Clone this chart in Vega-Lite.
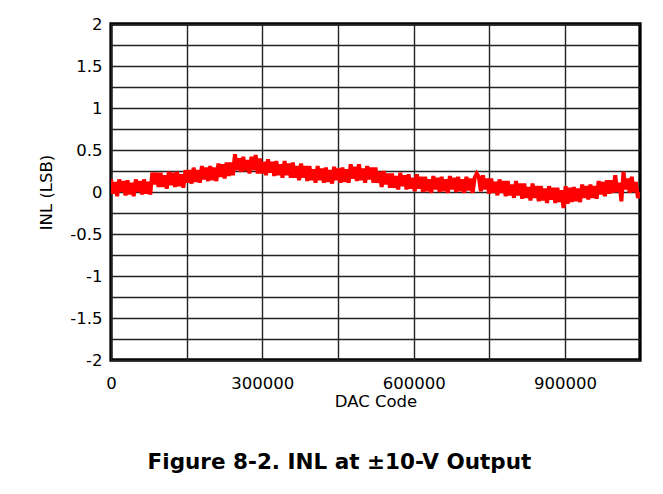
{
  "$schema": "https://vega.github.io/schema/vega-lite/v6.json",
  "width": 529,
  "height": 336,
  "autosize": {"type": "none"},
  "padding": {"left": 111, "top": 24, "right": 23, "bottom": 134},
  "background": "white",
  "title": {
    "text": "Figure 8-2. INL at ±10-V Output",
    "orient": "bottom",
    "frame": "bounds",
    "anchor": "middle",
    "font": "DejaVu Sans",
    "fontSize": 21.5,
    "fontWeight": "bold",
    "color": "#000",
    "offset": 42
  },
  "config": {
    "view": {"stroke": "#000", "strokeWidth": 3.3},
    "axis": {
      "labelFont": "DejaVu Sans",
      "titleFont": "DejaVu Sans",
      "labelFontSize": 16.5,
      "titleFontSize": 16.5,
      "titleFontWeight": "normal",
      "labelColor": "#000",
      "titleColor": "#000",
      "domain": false,
      "ticks": false,
      "tickSize": 0,
      "gridColor": "#222",
      "gridWidth": 1.4,
      "gridOpacity": 1
    }
  },
  "data": {
    "values": [
      {"code": 0, "inl": 0.15}, {"code": 4096, "inl": -0.02}, {"code": 8192, "inl": 0.12}, {"code": 12288, "inl": -0.05},
      {"code": 16384, "inl": 0.15}, {"code": 20480, "inl": 0.00}, {"code": 24576, "inl": 0.13}, {"code": 28672, "inl": -0.04},
      {"code": 32768, "inl": 0.14}, {"code": 36864, "inl": -0.03}, {"code": 40960, "inl": 0.11}, {"code": 45056, "inl": -0.05},
      {"code": 49152, "inl": 0.15}, {"code": 53248, "inl": 0.00}, {"code": 57344, "inl": 0.13}, {"code": 61440, "inl": -0.03},
      {"code": 65536, "inl": 0.15}, {"code": 69632, "inl": -0.02}, {"code": 73728, "inl": 0.12}, {"code": 77824, "inl": -0.03},
      {"code": 81920, "inl": 0.23}, {"code": 86016, "inl": 0.09}, {"code": 90112, "inl": 0.23}, {"code": 94208, "inl": 0.06},
      {"code": 98304, "inl": 0.23}, {"code": 102400, "inl": 0.06}, {"code": 106496, "inl": 0.20}, {"code": 110592, "inl": 0.04},
      {"code": 114688, "inl": 0.24}, {"code": 118784, "inl": 0.08}, {"code": 122880, "inl": 0.23}, {"code": 126976, "inl": 0.06},
      {"code": 131072, "inl": 0.24}, {"code": 135168, "inl": 0.07}, {"code": 139264, "inl": 0.21}, {"code": 143360, "inl": 0.05},
      {"code": 147456, "inl": 0.26}, {"code": 151552, "inl": 0.11}, {"code": 155648, "inl": 0.26}, {"code": 159744, "inl": 0.10},
      {"code": 163840, "inl": 0.29}, {"code": 167936, "inl": 0.12}, {"code": 172032, "inl": 0.26}, {"code": 176128, "inl": 0.11},
      {"code": 180224, "inl": 0.31}, {"code": 184320, "inl": 0.15}, {"code": 188416, "inl": 0.29}, {"code": 192512, "inl": 0.13},
      {"code": 196608, "inl": 0.31}, {"code": 200704, "inl": 0.14}, {"code": 204800, "inl": 0.29}, {"code": 208896, "inl": 0.13},
      {"code": 212992, "inl": 0.34}, {"code": 217088, "inl": 0.18}, {"code": 221184, "inl": 0.33}, {"code": 225280, "inl": 0.16},
      {"code": 229376, "inl": 0.35}, {"code": 233472, "inl": 0.19}, {"code": 237568, "inl": 0.35}, {"code": 241664, "inl": 0.20},
      {"code": 245760, "inl": 0.45}, {"code": 249856, "inl": 0.26}, {"code": 253952, "inl": 0.40}, {"code": 258048, "inl": 0.24},
      {"code": 262144, "inl": 0.42}, {"code": 266240, "inl": 0.25}, {"code": 270336, "inl": 0.38}, {"code": 274432, "inl": 0.22},
      {"code": 278528, "inl": 0.42}, {"code": 282624, "inl": 0.26}, {"code": 286720, "inl": 0.44}, {"code": 290816, "inl": 0.22},
      {"code": 294912, "inl": 0.40}, {"code": 299008, "inl": 0.22}, {"code": 303104, "inl": 0.36}, {"code": 307200, "inl": 0.20},
      {"code": 311296, "inl": 0.39}, {"code": 315392, "inl": 0.23}, {"code": 319488, "inl": 0.36}, {"code": 323584, "inl": 0.19},
      {"code": 327680, "inl": 0.37}, {"code": 331776, "inl": 0.20}, {"code": 335872, "inl": 0.33}, {"code": 339968, "inl": 0.17},
      {"code": 344064, "inl": 0.37}, {"code": 348160, "inl": 0.20}, {"code": 352256, "inl": 0.34}, {"code": 356352, "inl": 0.17},
      {"code": 360448, "inl": 0.35}, {"code": 364544, "inl": 0.17}, {"code": 368640, "inl": 0.31}, {"code": 372736, "inl": 0.14},
      {"code": 376832, "inl": 0.34}, {"code": 380928, "inl": 0.17}, {"code": 385024, "inl": 0.31}, {"code": 389120, "inl": 0.13},
      {"code": 393216, "inl": 0.31}, {"code": 397312, "inl": 0.14}, {"code": 401408, "inl": 0.27}, {"code": 405504, "inl": 0.11},
      {"code": 409600, "inl": 0.31}, {"code": 413696, "inl": 0.14}, {"code": 417792, "inl": 0.28}, {"code": 421888, "inl": 0.11},
      {"code": 425984, "inl": 0.29}, {"code": 430080, "inl": 0.12}, {"code": 434176, "inl": 0.26}, {"code": 438272, "inl": 0.10},
      {"code": 442368, "inl": 0.30}, {"code": 446464, "inl": 0.14}, {"code": 450560, "inl": 0.28}, {"code": 454656, "inl": 0.11},
      {"code": 458752, "inl": 0.29}, {"code": 462848, "inl": 0.12}, {"code": 466944, "inl": 0.27}, {"code": 471040, "inl": 0.11},
      {"code": 475136, "inl": 0.33}, {"code": 479232, "inl": 0.16}, {"code": 483328, "inl": 0.30}, {"code": 487424, "inl": 0.13},
      {"code": 491520, "inl": 0.33}, {"code": 495616, "inl": 0.14}, {"code": 499712, "inl": 0.28}, {"code": 503808, "inl": 0.11},
      {"code": 507904, "inl": 0.31}, {"code": 512000, "inl": 0.15}, {"code": 516096, "inl": 0.29}, {"code": 520192, "inl": 0.11},
      {"code": 524288, "inl": 0.29}, {"code": 528384, "inl": 0.11}, {"code": 532480, "inl": 0.24}, {"code": 536576, "inl": 0.06},
      {"code": 540672, "inl": 0.25}, {"code": 544768, "inl": 0.09}, {"code": 548864, "inl": 0.22}, {"code": 552960, "inl": 0.05},
      {"code": 557056, "inl": 0.22}, {"code": 561152, "inl": 0.05}, {"code": 565248, "inl": 0.19}, {"code": 569344, "inl": 0.03},
      {"code": 573440, "inl": 0.23}, {"code": 577536, "inl": 0.07}, {"code": 581632, "inl": 0.20}, {"code": 585728, "inl": 0.03},
      {"code": 589824, "inl": 0.21}, {"code": 593920, "inl": 0.04}, {"code": 598016, "inl": 0.17}, {"code": 602112, "inl": 0.01},
      {"code": 606208, "inl": 0.21}, {"code": 610304, "inl": 0.04}, {"code": 614400, "inl": 0.18}, {"code": 618496, "inl": 0.00},
      {"code": 622592, "inl": 0.18}, {"code": 626688, "inl": 0.01}, {"code": 630784, "inl": 0.15}, {"code": 634880, "inl": -0.01},
      {"code": 638976, "inl": 0.19}, {"code": 643072, "inl": 0.03}, {"code": 647168, "inl": 0.17}, {"code": 651264, "inl": 0.00},
      {"code": 655360, "inl": 0.18}, {"code": 659456, "inl": 0.01}, {"code": 663552, "inl": 0.15}, {"code": 667648, "inl": -0.01},
      {"code": 671744, "inl": 0.19}, {"code": 675840, "inl": 0.03}, {"code": 679936, "inl": 0.17}, {"code": 684032, "inl": 0.00},
      {"code": 688128, "inl": 0.18}, {"code": 692224, "inl": 0.01}, {"code": 696320, "inl": 0.15}, {"code": 700416, "inl": -0.01},
      {"code": 704512, "inl": 0.18}, {"code": 708608, "inl": 0.02}, {"code": 712704, "inl": 0.16}, {"code": 716800, "inl": -0.01},
      {"code": 720896, "inl": 0.17}, {"code": 724992, "inl": 0.22}, {"code": 729088, "inl": 0.18}, {"code": 733184, "inl": 0.01},
      {"code": 737280, "inl": 0.20}, {"code": 741376, "inl": 0.03}, {"code": 745472, "inl": 0.16}, {"code": 749568, "inl": -0.02},
      {"code": 753664, "inl": 0.16}, {"code": 757760, "inl": -0.01}, {"code": 761856, "inl": 0.12}, {"code": 765952, "inl": -0.04},
      {"code": 770048, "inl": 0.15}, {"code": 774144, "inl": -0.01}, {"code": 778240, "inl": 0.13}, {"code": 782336, "inl": -0.05},
      {"code": 786432, "inl": 0.13}, {"code": 790528, "inl": -0.04}, {"code": 794624, "inl": 0.09}, {"code": 798720, "inl": -0.07},
      {"code": 802816, "inl": 0.13}, {"code": 806912, "inl": -0.04}, {"code": 811008, "inl": 0.10}, {"code": 815104, "inl": -0.08},
      {"code": 819200, "inl": 0.10}, {"code": 823296, "inl": -0.07}, {"code": 827392, "inl": 0.06}, {"code": 831488, "inl": -0.10},
      {"code": 835584, "inl": 0.10}, {"code": 839680, "inl": -0.07}, {"code": 843776, "inl": 0.07}, {"code": 847872, "inl": -0.11},
      {"code": 851968, "inl": 0.07}, {"code": 856064, "inl": -0.10}, {"code": 860160, "inl": 0.04}, {"code": 864256, "inl": -0.13},
      {"code": 868352, "inl": 0.07}, {"code": 872448, "inl": -0.09}, {"code": 876544, "inl": 0.05}, {"code": 880640, "inl": -0.13},
      {"code": 884736, "inl": 0.05}, {"code": 888832, "inl": -0.12}, {"code": 892928, "inl": 0.02}, {"code": 897024, "inl": -0.19},
      {"code": 901120, "inl": 0.07}, {"code": 905216, "inl": -0.14}, {"code": 909312, "inl": 0.05}, {"code": 913408, "inl": -0.12},
      {"code": 917504, "inl": 0.06}, {"code": 921600, "inl": -0.11}, {"code": 925696, "inl": 0.04}, {"code": 929792, "inl": -0.12},
      {"code": 933888, "inl": 0.09}, {"code": 937984, "inl": -0.07}, {"code": 942080, "inl": 0.07}, {"code": 946176, "inl": -0.09},
      {"code": 950272, "inl": 0.09}, {"code": 954368, "inl": -0.07}, {"code": 958464, "inl": 0.07}, {"code": 962560, "inl": -0.08},
      {"code": 966656, "inl": 0.13}, {"code": 970752, "inl": -0.03}, {"code": 974848, "inl": 0.12}, {"code": 978944, "inl": -0.05},
      {"code": 983040, "inl": 0.14}, {"code": 987136, "inl": -0.02}, {"code": 991232, "inl": 0.14}, {"code": 995328, "inl": -0.01},
      {"code": 999424, "inl": 0.20}, {"code": 1003520, "inl": 0.00}, {"code": 1007616, "inl": 0.11}, {"code": 1011712, "inl": -0.11},
      {"code": 1015808, "inl": 0.24}, {"code": 1019904, "inl": 0.03}, {"code": 1024000, "inl": 0.16}, {"code": 1028096, "inl": -0.01},
      {"code": 1032192, "inl": 0.18}, {"code": 1036288, "inl": 0.00}, {"code": 1040384, "inl": 0.12}, {"code": 1044480, "inl": -0.07},
      {"code": 1048575, "inl": 0.00}
    ]
  },
  "mark": {"type": "line", "color": "#FF0000", "strokeWidth": 4, "clip": true},
  "encoding": {
    "x": {
      "field": "code",
      "type": "quantitative",
      "scale": {"domain": [0, 1048575], "nice": false, "zero": false},
      "axis": {
        "title": "DAC Code",
        "values": [0, 150000, 300000, 450000, 600000, 750000, 900000],
        "labelExpr": "datum.value % 300000 === 0 ? toString(datum.value) : ''",
        "labelPadding": 15,
        "titlePadding": 2,
        "labelFlush": false,
        "labelOverlap": false
      }
    },
    "y": {
      "field": "inl",
      "type": "quantitative",
      "scale": {"domain": [-2, 2], "nice": false},
      "axis": {
        "title": "INL (LSB)",
        "values": [-2, -1.75, -1.5, -1.25, -1, -0.75, -0.5, -0.25, 0, 0.25, 0.5, 0.75, 1, 1.25, 1.5, 1.75, 2],
        "labelExpr": "datum.value % 0.5 === 0 ? toString(datum.value) : ''",
        "labelPadding": 9,
        "titlePadding": 15,
        "labelFlush": false,
        "labelOverlap": false
      }
    }
  }
}
